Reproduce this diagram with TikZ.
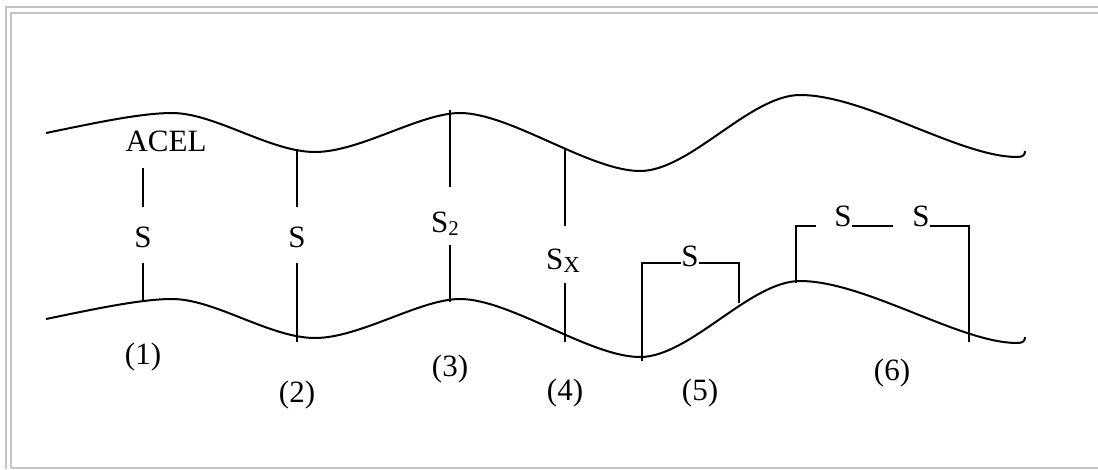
\documentclass[tikz,border=0pt]{standalone}
\usepackage{fontspec}
\setmainfont{Liberation Serif}
\definecolor{framegray}{RGB}{196,196,196}
\begin{document}
\begin{tikzpicture}[x=1pt,y=-1pt,
  wave/.style={line width=2pt,black},
  tick/.style={line width=2pt,black},
  frm/.style={line width=2pt,framegray},
  lbl/.style={font=\fontsize{31}{31}\selectfont,inner sep=0pt,anchor=base}]
\useasboundingbox (0,0) rectangle (1098,469);
% frame
\draw[frm] (6,469) -- (6,7) -- (1098,7);
\draw[frm] (11,468) -- (11,13) -- (1098,13);
\draw[frm] (11,468) -- (1098,468);
% waves
\foreach \dy/\nm in {0/top,186/bot}{
\begin{scope}[yshift=-\dy pt]
\draw[wave] (46,133) .. controls (90,124) and (140,113) .. (172,113)
  .. controls (215,113) and (270,152) .. (315,152)
  .. controls (360,152) and (420,113) .. (460,113)
  .. controls (510,113) and (590,171) .. (640,171)
  .. controls (690,171) and (750,95) .. (800,95)
  .. controls (865,95) and (960,157) .. (1017,157)
  .. controls (1023,157) and (1025,155) .. (1025,151);
\end{scope}}
% (1)
\node[lbl] (acel) at (166,151) {ACEL};
\node[lbl] (s1) at (143,247) {S};
\coordinate (a1) at (143,168); \coordinate (b1) at (143,207);
\coordinate (c1) at (143,263); \coordinate (d1) at (143,302);
\draw[tick] (a1) -- (b1); \draw[tick] (c1) -- (d1);
\node[lbl] (n1) at (143,364) {(1)};
% (2)
\node[lbl] (s2) at (297,247) {S};
\coordinate (a2) at (297,149); \coordinate (b2) at (297,207);
\coordinate (c2) at (297,263); \coordinate (d2) at (297,342);
\draw[tick] (a2) -- (b2); \draw[tick] (c2) -- (d2);
\node[lbl] (n2) at (297,402) {(2)};
% (3)
\node[lbl] (s3) at (445,232) {S\raisebox{-0.12em}{\fontsize{21}{21}\selectfont 2}};
\coordinate (a3) at (450,110); \coordinate (b3) at (450,187);
\coordinate (c3) at (450,245); \coordinate (d3) at (450,302);
\draw[tick] (a3) -- (b3); \draw[tick] (c3) -- (d3);
\node[lbl] (n3) at (450,376) {(3)};
% (4)
\node[lbl] (s4) at (563,269) {S\raisebox{-0.12em}{\fontsize{23}{23}\selectfont X}};
\coordinate (a4) at (565,149); \coordinate (b4) at (565,226);
\coordinate (c4) at (565,283); \coordinate (d4) at (565,342);
\draw[tick] (a4) -- (b4); \draw[tick] (c4) -- (d4);
\node[lbl] (n4) at (565,400) {(4)};
% (5)
\node[lbl] (s5) at (690,266) {S};
\coordinate (a5) at (642,361); \coordinate (b5) at (642,263);
\coordinate (c5) at (739,263); \coordinate (d5) at (739,303);
\draw[tick] (a5) -- (b5) -- (s5.west |- b5);
\draw[tick] (s5.east |- c5) -- (c5) -- (d5);
\node[lbl] (n5) at (700,400) {(5)};
% (6)
\node[lbl] (s6a) at (843,226) {S};
\node[lbl] (s6b) at (921,226) {S};
\coordinate (a6) at (796,283); \coordinate (b6) at (796,226);
\coordinate (e6) at (816,226);
\coordinate (f6) at (893,226);
\coordinate (c6) at (969,226); \coordinate (d6) at (969,342);
\draw[tick] (a6) -- (b6) -- (e6);
\draw[tick] (s6a.east |- b6) -- (f6);
\draw[tick] (s6b.east |- c6) -- (c6) -- (d6);
\node[lbl] (n6) at (892,380) {(6)};
\end{tikzpicture}
\end{document}
